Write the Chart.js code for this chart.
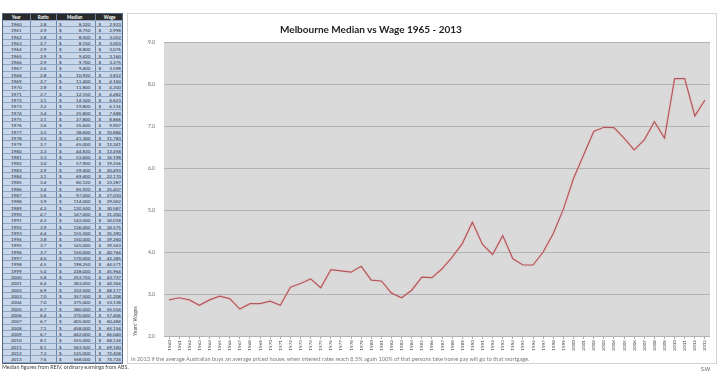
<!DOCTYPE html>
<html>
<head>
<meta charset="utf-8">
<script src="https://cdn.jsdelivr.net/npm/chart.js@4.4.1/dist/chart.umd.min.js"></script>
<style>
  body { margin: 0; width: 721px; height: 377px; background: #fff; position: relative; overflow: hidden; font-family: Lato, sans-serif; }
  #tbl { position: absolute; left: 2px; top: 13px; width: 121px; font-size: 4.6px; color: #1d2b40; border: 1px solid #4f6580; box-sizing: border-box; }
  .r { display: flex; height: 6.33px; line-height: 6.33px; background: #c8d7ea; border-bottom: 0.5px solid #8fa5c2; box-sizing: border-box; }
  .r.h { height: 7px; line-height: 7px; background: #2b2b2b; color: #fff; font-weight: bold; }
  .c { box-sizing: border-box; border-right: 0.5px solid #6f86a5; white-space: nowrap; overflow: hidden; }
  .c1 { width: 28px; text-align: center; }
  .c2 { width: 27px; text-align: center; }
  .c3 { width: 40px; display: flex; justify-content: space-between; padding: 0 5px 0 2px; }
  .c4 { width: 26px; display: flex; justify-content: space-between; padding: 0 1px 0 2px; border-right: none; }
  .h .c3, .h .c4 { justify-content: center; }
  #box { position: absolute; left: 127px; top: 13px; width: 590px; height: 351px; border: 1px solid #d4d4d4; box-sizing: border-box; background: #fff; }
  #wrap { position: absolute; left: 0; top: 0; width: 588px; height: 349px; }
  #title { position: absolute; left: 152px; top: 9px; font-weight: bold; font-size: 10px; color: #222; white-space: nowrap; }
  #caption { position: absolute; left: 3px; top: 341px; font-size: 5.6px; color: #7a7a7a; white-space: nowrap; }
  #note { position: absolute; left: 2px; top: 364px; font-size: 5.3px; color: #444; white-space: nowrap; }
  #sig { position: absolute; left: 701px; top: 366px; font-size: 5.3px; color: #555; }
</style>
</head>
<body>
<div id="tbl"></div>
<div id="box">
  <div id="wrap"><canvas id="chart"></canvas></div>
  <div id="title">Melbourne Median vs Wage 1965 - 2013</div>
  <div id="caption">In 2013 if the average Australian buys an average priced house, when interest rates reach 8.5% again 100% of that persons take home pay will go to that mortgage.</div>
</div>
<div id="note">Median figures from REIV, ordinary earnings from ABS.</div>
<div id="sig">S.W</div>

<script>
const years = ['1960','1961','1962','1963','1964','1965','1966','1967','1968','1969',
  '1970','1971','1972','1973','1974','1975','1976','1977','1978','1979',
  '1980','1981','1982','1983','1984','1985','1986','1987','1988','1989',
  '1990','1991','1992','1993','1994','1995','1996','1997','1998','1999',
  '2000','2001','2002','2003','2004','2005','2006','2007','2008','2009',
  '2010','2011','2012','2013'];

// ratio column as printed in the table
const ratioTable = [2.8,2.9,2.8,2.7,2.9,2.9,2.9,2.6,2.8,2.7,
  2.8,2.7,3.1,3.2,3.4,3.1,3.6,3.5,3.5,3.7,
  3.3,3.3,3.0,2.9,3.1,3.4,3.4,3.6,3.9,4.2,
  4.7,4.2,3.9,4.4,3.8,3.7,3.7,4.0,4.5,5.0,
  5.8,6.4,6.9,7.0,7.0,6.7,6.4,6.7,7.1,6.7,
  8.1,8.1,7.2,7.6];

const medians = [8320,8750,8500,8150,8800,9420,9700,9400,10920,11400,
  11800,12150,14500,19800,25800,27800,35600,38600,41300,45000,
  44830,53600,57900,59400,69400,80120,85920,97000,114000,130500,
  147000,142000,136000,155500,150000,145000,150000,170000,198250,228000,
  253750,283000,332500,357500,375000,380000,370000,405000,458000,442000,
  555000,563500,525000,568000];

const wages = [2923,2998,3052,3003,3076,3160,3275,3598,3812,4160,
  4200,4482,4623,6116,7688,8866,9907,10884,11783,12241,
  13458,16198,19256,20493,22170,23287,25407,27010,29062,30587,
  31200,34018,34575,35390,39260,39563,40764,42385,44571,45964,
  43737,44364,48177,51208,53138,55554,57406,60484,65154,66040,
  68124,69160,72408,74724];

// years of wages, as plotted
const chartRatio = [2.86,2.91,2.86,2.73,2.86,2.95,2.89,2.64,2.77,2.77,
  2.83,2.73,3.16,3.25,3.36,3.15,3.58,3.55,3.52,3.66,
  3.33,3.31,3.02,2.91,3.09,3.40,3.39,3.60,3.88,4.20,
  4.71,4.18,3.94,4.39,3.84,3.69,3.69,4.00,4.44,5.02,
  5.75,6.31,6.87,6.97,6.96,6.71,6.43,6.67,7.10,6.71,
  8.13,8.13,7.24,7.62];

const yTicks = [2, 3, 4, 5, 6, 7, 8, 9];

// spreadsheet table
const fmt = n => n.toLocaleString('en-US');
let html = '<div class="r h"><div class="c c1">Year</div><div class="c c2">Ratio</div>' +
  '<div class="c c3">Median</div><div class="c c4">Wage</div></div>';
years.forEach((y, i) => {
  html += '<div class="r"><div class="c c1">' + y + '</div><div class="c c2">' + ratioTable[i].toFixed(1) + '</div>' +
    '<div class="c c3"><span>$</span><span>' + fmt(medians[i]) + '</span></div>' +
    '<div class="c c4"><span>$</span><span>' + fmt(wages[i]) + '</span></div></div>';
});
document.getElementById('tbl').innerHTML = html;

const plotBg = {
  id: 'plotBg',
  beforeDraw(chart) {
    const { ctx, chartArea: a } = chart;
    ctx.save();
    ctx.fillStyle = '#dadada';
    ctx.fillRect(a.left, a.top, a.right - a.left, a.bottom - a.top);
    ctx.restore();
  }
};

const lineGlow = {
  id: 'lineGlow',
  beforeDatasetDraw(chart) {
    chart.ctx.save();
    chart.ctx.shadowColor = 'rgba(240,185,185,0.9)';
    chart.ctx.shadowBlur = 2;
  },
  afterDatasetDraw(chart) {
    chart.ctx.restore();
  }
};

new Chart(document.getElementById('chart'), {
  type: 'line',
  data: {
    labels: years,
    datasets: [{
      data: chartRatio,
      borderColor: '#b3575d',
      borderWidth: 1.2,
      pointRadius: 0,
      tension: 0,
      fill: false
    }]
  },
  options: {
    responsive: true,
    maintainAspectRatio: false,
    animation: false,
    layout: { padding: { top: 28, right: 6, bottom: 11, left: 0 } },
    plugins: {
      legend: { display: false },
      tooltip: { enabled: false }
    },
    scales: {
      x: {
        offset: true,
        grid: { display: true, drawOnChartArea: false, tickLength: 3, color: '#aaaaaa' },
        border: { display: false },
        ticks: {
          autoSkip: false,
          maxRotation: 90,
          minRotation: 90,
          padding: 1,
          color: '#444',
          font: { family: 'Lato', size: 4.6 }
        },
        afterFit: s => { s.height = 16; }
      },
      y: {
        min: 2,
        max: 9,
        afterBuildTicks: s => { s.ticks = yTicks.map(v => ({ value: v })); },
        grid: { color: '#b3b3b3', lineWidth: 1, drawTicks: false },
        border: { display: false },
        ticks: {
          padding: 9,
          color: '#666',
          font: { family: 'Lato', size: 5 },
          callback: v => Number(v).toFixed(1)
        },
        title: {
          display: true,
          text: "Years' Wages",
          align: 'start',
          color: '#555',
          font: { family: 'Lato', size: 5.2 },
          padding: { top: 4, bottom: 0 }
        },
        afterFit: s => { s.width = 36; }
      }
    }
  },
  plugins: [plotBg, lineGlow]
});
</script>
</body>
</html>
